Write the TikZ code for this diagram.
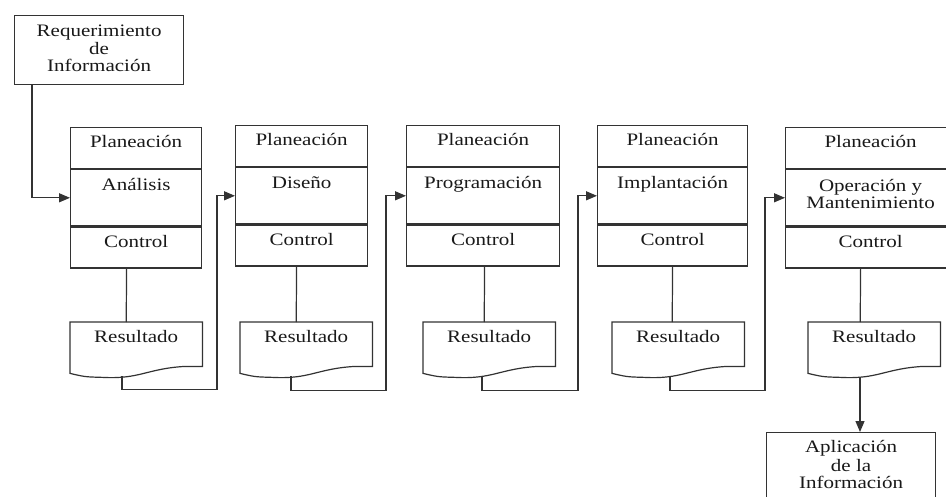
\documentclass[tikz,border=0pt]{standalone}
\usepackage{fontspec}
\setmainfont{Liberation Serif}[FakeStretch=1.2]
\usetikzlibrary{arrows.meta,calc}
\definecolor{ink}{HTML}{333333}
\tikzset{
  ln/.style={draw=ink, line width=1.2pt},
  arr/.style={ln, -{Triangle[length=11pt,width=9pt]}},
  cell/.style={ln, rectangle, inner sep=0pt},
  ghost/.style={rectangle, inner sep=0pt, draw=none},
  txt/.style={anchor=base, inner sep=0pt, text=black!90,
    font=\fontsize{17.5}{17}\selectfont},
}
\newcommand\stagebox[5]{% name, x, y, width, middle text
  \node[cell, minimum width=#4, minimum height=41, anchor=north west] (#1p) at (#2,#3) {};
  \node[cell, minimum width=#4, minimum height=56, anchor=north] (#1m) at (#1p.south) {};
  \node[cell, minimum width=#4, minimum height=41, anchor=north] (#1c) at (#1m.south) {};
  \node[txt] (#1pt) at ([yshift=-21pt]#1p.north) {Planeación};
  \node[txt] (#1ct) at ([yshift=-21pt]#1c.north) {Control};
}
\newcommand\docbox[3]{% name, x, width
  \node[ghost, minimum width=#3, minimum height=51, anchor=north west] (#1) at (#2,322) {};
  \draw[ln, line join=miter] (#1.north west) -- (#1.north east) -- ($(#1.south east)+(0,-7)$)
    -- ($(#1.south east)+(-17,-7)$)
    .. controls ($(#1.south east)+(-55,-5)$) and ($(#1.south west)+(70,6)$) .. ($(#1.south west)+(33,4)$)
    .. controls ($(#1.south west)+(15,3.5)$) .. (#1.south west) -- cycle;
  \node[txt] (#1t) at ([yshift=-21pt]#1.north) {Resultado};
}
\begin{document}
\begin{tikzpicture}[x=1pt, y=-1pt]
\useasboundingbox (0,0) rectangle (946,497);
\fill[white] (0,0) rectangle (946,497);
\clip (0,0) rectangle (946,497);

% requirement box
\node[cell, minimum width=169, minimum height=69, anchor=north west] (req) at (14,15) {};
\node[txt] (reqt1) at ([yshift=-22pt]req.north) {Requerimiento};
\node[txt] (reqt2) at ([yshift=-40pt]req.north) {de};
\node[txt] (reqt3) at ([yshift=-57pt]req.north) {Información};

% stages
\stagebox{b1}{70}{127}{131}{Análisis}
\stagebox{b2}{235}{125}{132}{Diseño}
\stagebox{b3}{406}{125}{153}{Programación}
\stagebox{b4}{597}{125}{150}{Implantación}
\stagebox{b5}{785}{127}{170}{Operación y}
\node[txt] (b1mt) at ([yshift=-21pt]b1m.north) {Análisis};
\node[txt] (b2mt) at ([yshift=-21pt]b2m.north) {Diseño};
\node[txt] (b3mt) at ([yshift=-21pt]b3m.north) {Programación};
\node[txt] (b4mt) at ([yshift=-21pt]b4m.north) {Implantación};
\node[txt] (b5mt1) at ([yshift=-22pt]b5m.north) {Operación y};
\node[txt] (b5mt2) at ([yshift=-39pt]b5m.north) {Mantenimiento};

% documents
\docbox{d1}{70}{132}
\docbox{d2}{240}{132}
\docbox{d3}{423}{132}
\docbox{d4}{612}{132}
\docbox{d5}{808}{132}

% application box
\node[cell, minimum width=169, minimum height=90, anchor=north west] (app) at (766,432) {};
\node[txt] (appt1) at ([yshift=-20pt]app.north) {Aplicación};
\node[txt] (appt2) at ([yshift=-39pt]app.north) {de la};
\node[txt] (appt3) at ([yshift=-56pt]app.north) {Información};

% connectors
\draw[arr] ([xshift=18pt]req.south west) |- (b1m.west);

\draw[ln] ([xshift=-9.5pt]b1c.south) -- ([xshift=-10pt]d1.north);
\draw[ln] ([xshift=-5pt]b2c.south) -- ([xshift=-10pt]d2.north);
\draw[ln] ([xshift=1.5pt]b3c.south) -- ([xshift=-5pt]d3.north);
\draw[ln] ([xshift=0pt]b4c.south) -- ([xshift=-6pt]d4.north);
\draw[ln] ([xshift=-10pt]b5c.south) -- ([xshift=-14pt]d5.north);

\draw[arr] ($(d1.south west)+(52,3)$) -- ++(0,13) -| ([xshift=-18pt]b2m.west) -- (b2m.west);
\draw[arr] ($(d2.south west)+(51,3)$) -- ++(0,14) -| ([xshift=-20pt]b3m.west) -- (b3m.west);
\draw[arr] ($(d3.south west)+(59,3)$) -- ++(0,14) -| ([xshift=-19pt]b4m.west) -- (b4m.west);
\draw[arr] ($(d4.south west)+(58,3)$) -- ++(0,14) -| ([xshift=-20pt]b5m.west) -- (b5m.west);

\coordinate (o5) at ($(d5.south west)+(52,4)$);
\draw[arr] (o5) -- (o5 |- app.north);
\end{tikzpicture}
\end{document}
